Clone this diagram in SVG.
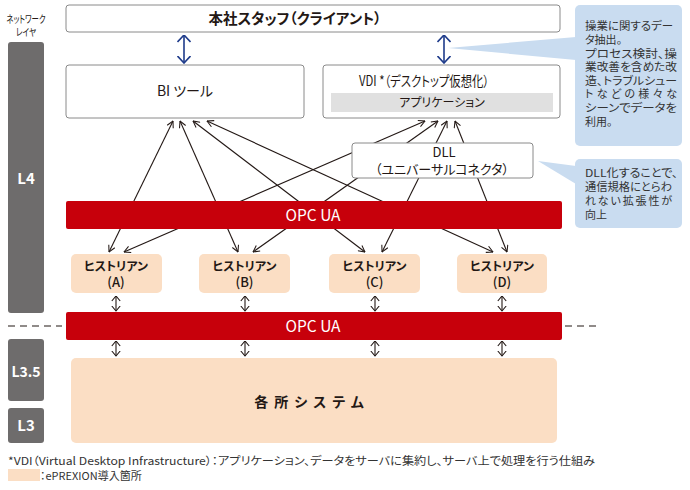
<svg xmlns="http://www.w3.org/2000/svg" width="690" height="490" viewBox="0 0 690 490">
<style>
text{font-family:"Noto Sans CJK JP","Noto Sans",sans-serif;font-feature-settings:"palt";fill:#231815}
.box{fill:#fff;stroke:#8a8a8a;stroke-width:1}
.peach{fill:#fbdec4}
.red{fill:#c7000b}
.gray{fill:#6e6c6c}
.call{fill:#c9dcf0}
.ln{fill:none;stroke:#231815;stroke-width:1.1}
.blue{fill:none;stroke:#1d3a8a;stroke-width:1.6}
.dash{fill:none;stroke:#231815;stroke-width:1.2;stroke-dasharray:7 5}
.w{fill:#fff}
.c{text-anchor:middle}
.ct{font-size:11px;fill:#333}
</style>
<defs>
<marker id="ah" viewBox="0 0 10 10" refX="9.5" refY="5" markerWidth="8" markerHeight="8" markerUnits="userSpaceOnUse" orient="auto-start-reverse">
<path d="M1.5,0.8 L9.5,5 L1.5,9.2" fill="none" stroke="#231815" stroke-width="1.3"/>
</marker>
<marker id="as" viewBox="0 0 6 10" refX="5.5" refY="5" markerWidth="6" markerHeight="10" markerUnits="userSpaceOnUse" orient="auto-start-reverse">
<path d="M0.5,0.8 L5.5,5 L0.5,9.2" fill="none" stroke="#231815" stroke-width="1.1"/>
</marker>
<marker id="bh" viewBox="0 0 8 14" refX="7.5" refY="7" markerWidth="8" markerHeight="14" markerUnits="userSpaceOnUse" orient="auto-start-reverse">
<path d="M0.5,0.5 L7.5,7 L0.5,13.5" fill="none" stroke="#1d3a8a" stroke-width="1.6"/>
</marker>
</defs>

<g id="layer-label">
<text x="26" y="23" class="c" font-size="10.5" textLength="39" lengthAdjust="spacingAndGlyphs">ネットワーク</text>
<text x="26" y="36" class="c" font-size="10.5" textLength="20" lengthAdjust="spacingAndGlyphs">レイヤ</text>
</g>
<g id="L4"><rect x="8" y="42" width="36" height="271" rx="3" class="gray"/><text x="26" y="184" class="c w" font-size="15" font-weight="bold">L4</text></g>
<g id="L35"><rect x="8" y="339" width="36" height="62" rx="3" class="gray"/><text x="26" y="377" class="c w" font-size="14" font-weight="bold">L3.5</text></g>
<g id="L3"><rect x="8" y="408" width="36" height="35" rx="3" class="gray"/><text x="26" y="431" class="c w" font-size="15" font-weight="bold">L3</text></g>

<g id="dashes">
<line x1="8" y1="326" x2="62" y2="326" class="dash"/>
<line x1="565" y1="326" x2="598" y2="326" class="dash"/>
</g>

<g id="connectors">
<line x1="184" y1="35" x2="184" y2="63" class="blue" marker-start="url(#bh)" marker-end="url(#bh)"/>
<line x1="444" y1="35" x2="444" y2="63" class="blue" marker-start="url(#bh)" marker-end="url(#bh)"/>
<line x1="109" y1="252" x2="173" y2="121" class="ln" marker-start="url(#ah)" marker-end="url(#ah)"/>
<line x1="238" y1="252" x2="180" y2="121" class="ln" marker-start="url(#ah)" marker-end="url(#ah)"/>
<line x1="365" y1="252" x2="193" y2="121" class="ln" marker-start="url(#ah)" marker-end="url(#ah)"/>
<line x1="493" y1="252" x2="207" y2="121" class="ln" marker-start="url(#ah)" marker-end="url(#ah)"/>
<line x1="124" y1="252" x2="425" y2="121" class="ln" marker-start="url(#ah)" marker-end="url(#ah)"/>
<line x1="253" y1="252" x2="438" y2="121" class="ln" marker-start="url(#ah)" marker-end="url(#ah)"/>
<line x1="382" y1="252" x2="447" y2="121" class="ln" marker-start="url(#ah)" marker-end="url(#ah)"/>
<line x1="507" y1="252" x2="455" y2="121" class="ln" marker-start="url(#ah)" marker-end="url(#ah)"/>
<line x1="116" y1="296" x2="116" y2="311" class="ln" marker-start="url(#as)" marker-end="url(#as)"/>
<line x1="245" y1="296" x2="245" y2="311" class="ln" marker-start="url(#as)" marker-end="url(#as)"/>
<line x1="375" y1="296" x2="375" y2="311" class="ln" marker-start="url(#as)" marker-end="url(#as)"/>
<line x1="502" y1="296" x2="502" y2="311" class="ln" marker-start="url(#as)" marker-end="url(#as)"/>
<line x1="116" y1="341" x2="116" y2="356" class="ln" marker-start="url(#as)" marker-end="url(#as)"/>
<line x1="245" y1="341" x2="245" y2="356" class="ln" marker-start="url(#as)" marker-end="url(#as)"/>
<line x1="375" y1="341" x2="375" y2="356" class="ln" marker-start="url(#as)" marker-end="url(#as)"/>
<line x1="502" y1="341" x2="502" y2="356" class="ln" marker-start="url(#as)" marker-end="url(#as)"/>
</g>

<g id="staff"><rect x="66" y="5" width="494" height="27" rx="3" class="box"/><text x="295" y="24" class="c" font-size="14.5" font-weight="bold">本社スタッフ（クライアント）</text></g>
<g id="bi"><rect x="66" y="65" width="238" height="53" rx="3" class="box"/><text x="185" y="96" class="c" font-size="14">BI ツール</text></g>
<g id="vdi"><rect x="323" y="65" width="237" height="53" rx="3" class="box"/><text x="424" y="86" class="c" font-size="14" textLength="130" lengthAdjust="spacingAndGlyphs">VDI *（デスクトップ仮想化）</text>
<rect x="331" y="93" width="222" height="19" fill="#e0e0e0"/><text x="442" y="107" class="c" font-size="12">アプリケーション</text></g>
<g id="dll"><rect x="352" y="143" width="181" height="35" rx="3" class="box"/><text x="444" y="157" class="c" font-size="13">DLL</text><text x="442" y="174" class="c" font-size="13">（ユニバーサルコネクタ）</text></g>

<g id="opc1"><rect x="66" y="201" width="496" height="28" rx="2" class="red"/><text x="313" y="221" class="c w" font-size="15.5">OPC UA</text></g>

<g id="histA"><rect x="71" y="254" width="91" height="39" rx="5" class="peach"/><text x="116" y="271" class="c" font-size="12" font-weight="bold">ヒストリアン</text><text x="116" y="287" class="c" font-size="13" font-weight="500">(A)</text></g>
<g id="histB"><rect x="199" y="254" width="91" height="39" rx="5" class="peach"/><text x="244.5" y="271" class="c" font-size="12" font-weight="bold">ヒストリアン</text><text x="244.5" y="287" class="c" font-size="13" font-weight="500">(B)</text></g>
<g id="histC"><rect x="329" y="254" width="91" height="39" rx="5" class="peach"/><text x="374.5" y="271" class="c" font-size="12" font-weight="bold">ヒストリアン</text><text x="374.5" y="287" class="c" font-size="13" font-weight="500">(C)</text></g>
<g id="histD"><rect x="457" y="254" width="90" height="39" rx="5" class="peach"/><text x="502" y="271" class="c" font-size="12" font-weight="bold">ヒストリアン</text><text x="502" y="287" class="c" font-size="13" font-weight="500">(D)</text></g>

<g id="opc2"><rect x="66" y="312" width="496" height="28" rx="2" class="red"/><text x="313" y="332" class="c w" font-size="15.5">OPC UA</text></g>

<g id="systems"><rect x="71" y="358" width="486" height="85" rx="5" class="peach"/><text x="312" y="407" class="c" font-size="14" font-weight="bold" letter-spacing="6">各所システム</text></g>

<g id="callout1">
<polygon points="448,48 576,37 576,60" class="call"/>
<rect x="575" y="5" width="107" height="141" rx="5" class="call"/>
<text x="585" y="30" class="ct" textLength="88" lengthAdjust="spacingAndGlyphs">操業に関するデー</text>
<text x="585" y="44" class="ct">タ抽出。</text>
<text x="585" y="58" class="ct" textLength="92" lengthAdjust="spacingAndGlyphs">プロセス検討、操</text>
<text x="585" y="71" class="ct" textLength="92" lengthAdjust="spacingAndGlyphs">業改善を含めた改</text>
<text x="585" y="85" class="ct" textLength="92" lengthAdjust="spacingAndGlyphs">造、トラブルシュー</text>
<text x="585" y="98" class="ct" textLength="92" lengthAdjust="spacing">トなどの様々な</text>
<text x="585" y="112" class="ct" textLength="92" lengthAdjust="spacingAndGlyphs">シーンでデータを</text>
<text x="585" y="126" class="ct">利用。</text>
</g>
<g id="callout2">
<polygon points="538,161 576,166 576,184" class="call"/>
<rect x="575" y="159" width="107" height="69" rx="5" class="call"/>
<text x="585" y="177" class="ct" textLength="93" lengthAdjust="spacingAndGlyphs">DLL化することで、</text>
<text x="585" y="191" class="ct" textLength="87" lengthAdjust="spacingAndGlyphs">通信規格にとらわ</text>
<text x="585" y="205" class="ct" textLength="87" lengthAdjust="spacing">れない拡張性が</text>
<text x="585" y="219" class="ct">向上</text>
</g>

<g id="footnote">
<text x="8" y="465" font-size="11" style="fill:#333" textLength="587" lengthAdjust="spacingAndGlyphs">*VDI（Virtual Desktop Infrastructure）：アプリケーション、データをサーバに集約し、サーバ上で処理を行う仕組み</text>
<rect x="8" y="469" width="32" height="12" class="peach"/>
<text x="40" y="480" font-size="11" style="fill:#333">：ePREXION導入箇所</text>
</g>
</svg>
